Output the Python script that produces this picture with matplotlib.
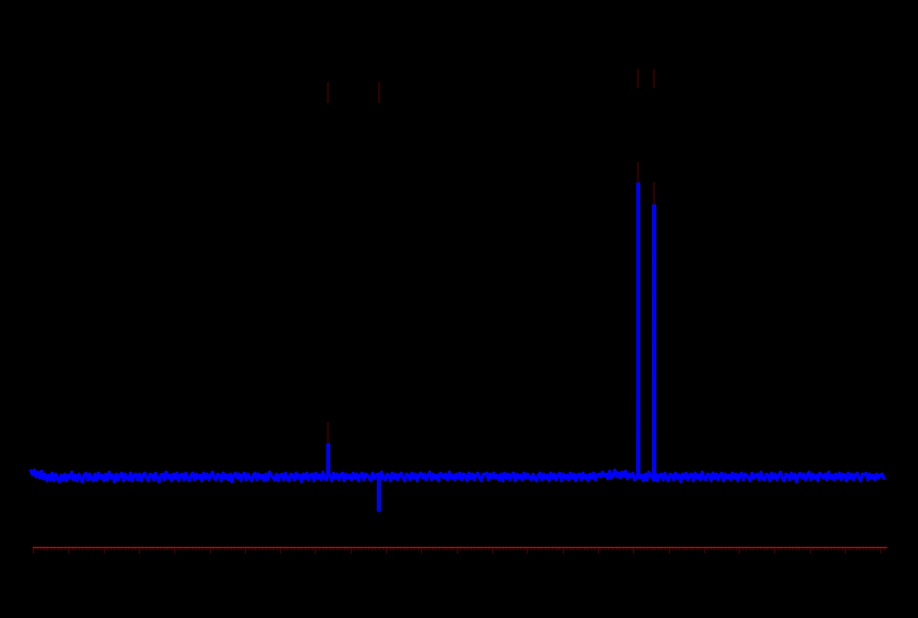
#!/usr/bin/env python3
"""Dark-background 1D spectrum with a sparse red ppm axis."""

import numpy as np
import matplotlib.pyplot as plt
from matplotlib.ticker import MultipleLocator


# baseline intensities (arbitrary units), read left to right across the trace
baseline = [
    5, 1, 6, -1, 4, -2, 5, -3, 2, -5, 1, -4, 3, -5, 2, -2, -6, 1, -4, 2,
    -5, 1, -2, 4, -4, 1, -5, 2, -2, -6, 1, 3, -4, 2, -2, -5, 2, -4, 3, -2,
    1, -5, 2, -4, 4, -2, 1, -6, 2, -4, 1, 3, -5, 2, -2, -4, 3, -5, 1, 2,
    -4, 2, -5, 1, 3, -2, -5, 2, 1, -4, 3, -2, -6, 1, 2, -4, 4, -2, 1, -5,
    2, -2, 3, -5, 1, 2, -4, 3, -2, -5, 1, 3, -4, 2, -2, 1, -5, 3, -2, 2,
    -4, 1, 4, -2, -4, 2, 1, -5, 3, -2, 1, -4, 2, -6, 1, 3, -2, 2, -5, 1,
    3, -4, 2, -2, -5, 1, 3, -4, 2, -2, 1, -5, 2, -4, 4, 1, -2, -4, 2, -5,
    1, 2, -4, 3, -2, -5, 2, 1, -4, 3, -2, 1, -6, 2, -2, 3, -4, 1, 2, -5,
    3, -2, 1, -4, 4, -2, -4, 2, 1, -5, 3, -2, 2, -4, 1, 3, -5, 2, -2, 1,
    -4, 3, -2, 2, -5, 1, 3, -4, 2, 1, -2, -5, 3, -2, 1, 2, -4, 4, -2, -4,
    2, 1, -5, 3, -2, 2, -4, 1, 3, -2, -5, 2, 1, -4, 3, -2, 2, -5, 1, 3,
    -2, 2, -4, 1, 4, -4, 2, -2, 1, -5, 3, 1, -2, 2, -4, 4, -2, 1, -4, 2,
    -2, 3, -4, 2, 1, -5, 3, -2, 2, -4, 1, 3, -2, -5, 2, 1, 3, -4, 2, -2,
    3, -2, 1, -4, 2, -5, 3, -2, 2, -4, 1, 3, -5, 2, -2, 1, -4, 3, -2, 2,
    -2, -4, 2, -2, -5, 1, 3, -4, 2, -2, 1, -5, 3, -2, 2, -4, 1, 3, -5, 2,
    -2, 1, -4, 3, -2, 2, -5, 1, 2, -4, 3, -2, 1, -5, 2, -2, 3, -4, 1, 2,
    -1, 4, 0, 2, -3, 5, -2, 1, 6, -1, 3, -2, 4, 0, 5, -3, 2, -1, 3, -4,
    -2, 2, -2, 1, -5, 2, -4, 4, 1, -2, -4, 2, -5, 1, 2, -4, 3, -2, -5, 2,
    1, -4, 3, -2, 1, -6, 2, -2, 3, -4, 1, 2, -5, 3, -2, 1, -4, 4, -2, -4,
    2, 1, -5, 3, -2, 2, -4, 1, 3, -5, 2, -2, 1, -4, 3, -2, 2, -5, 1, 3,
    -4, 2, 1, -2, -5, 3, -2, 1, 2, -4, 4, -2, -4, 2, 1, -5, 3, -2, 2, -4,
    1, 4, -2, -5, 2, 1, -4, 3, -2, 2, -6, 1, 3, -2, 2, -4, 1, 4, -4, 2,
    -2, 1, -5, 3, 1, -2, 2, -4, 4, -2, 1, -4, 2, -2, 3, -4, 2, 1, -5, 3,
    -2, 2, -4, 1, 3, -2, -5, 2, 1, 3, -4, 2, -2, 1, -4, 2, -2, 1, 2, -2,
]

# resolved peaks: chemical shift (ppm) and intensity
peak_ppm = [15.64, 14.20, 6.86, 6.41]
peak_height = [33, -35, 294, 272]

# peak label leaders (faint): start/end heights for each peak, None = no leader
leader_low = [(53, 33), None, (313, 294), (293, 272)]
leader_top = [(393, 374), (393, 374), (406, 389), (406, 389)]

PPM_LEFT, PPM_RIGHT = 24.06, -0.10
AXIS_LEFT, AXIS_RIGHT = 24.0, -0.16


def build_trace():
    x = list(np.linspace(PPM_LEFT, PPM_RIGHT, len(baseline)))
    y = list(baseline)
    for p, h in zip(peak_ppm, peak_height):
        i = int(np.argmin(np.abs(np.array(x) - p)))
        base = y[i]
        x[i:i + 1] = [p + 0.015, p, p - 0.015]
        y[i:i + 1] = [base, h, base]
    return np.array(x), np.array(y)


def main():
    plt.rcParams.update({"font.size": 10, "font.family": "DejaVu Sans"})
    fig = plt.figure(figsize=(9.18, 6.18), dpi=100, facecolor="black")
    ax = fig.add_axes([33 / 918, 71 / 618, 853 / 918, 487 / 618], facecolor="black")

    x, y = build_trace()
    ax.plot(x, y, color="#0000ff", linewidth=2.2, clip_on=False)

    for p, lo in zip(peak_ppm, leader_low):
        if lo is not None:
            ax.plot([p, p], lo, color="#300000", linewidth=1.5)
    for p, top in zip(peak_ppm, leader_top):
        ax.plot([p, p], top, color="#300000", linewidth=1.5)

    ax.set_xlim(AXIS_LEFT, AXIS_RIGHT)
    ax.set_ylim(-71, 416)
    for side in ("top", "left", "right"):
        ax.spines[side].set_visible(False)
    ax.spines["bottom"].set_color("#cc0000")
    ax.spines["bottom"].set_linewidth(1.0)
    ax.set_yticks([])
    ax.xaxis.set_major_locator(MultipleLocator(1))
    ax.xaxis.set_minor_locator(MultipleLocator(0.1))
    ax.tick_params(axis="x", which="major", length=4, width=1, color="#400000",
                   labelcolor="black")
    ax.tick_params(axis="x", which="minor", length=2, width=1, color="#380000")

    fig.savefig("out.png", dpi=100, facecolor="black")
    plt.close(fig)


if __name__ == "__main__":
    main()
